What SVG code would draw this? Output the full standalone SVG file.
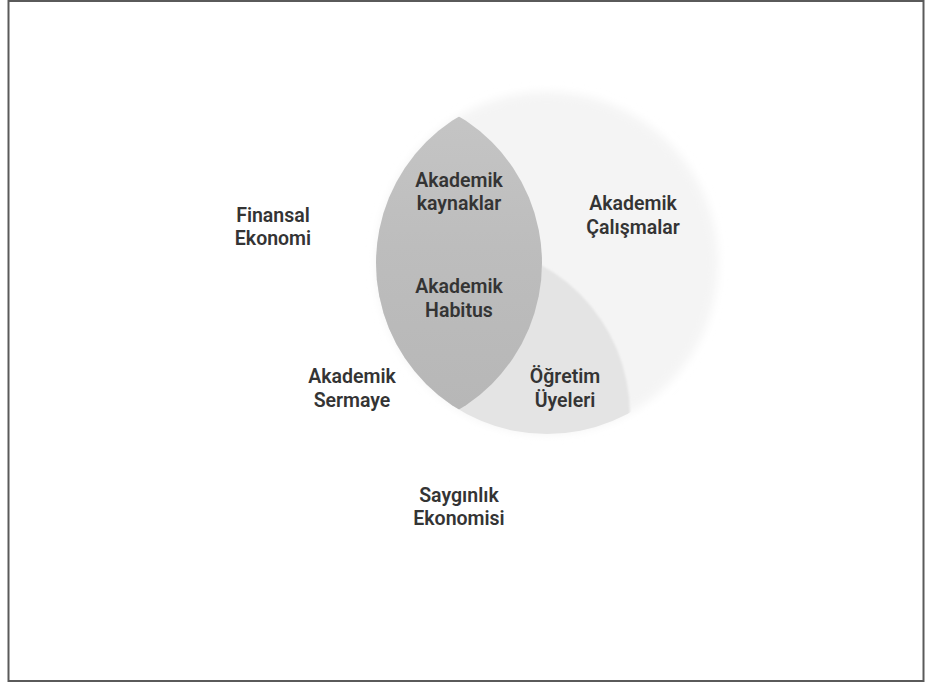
<svg xmlns="http://www.w3.org/2000/svg" width="925" height="684" viewBox="0 0 925 684">
  <defs>
    <style>
      .lbl { font-family: Roboto, "Liberation Sans", Arial, sans-serif; font-size: 19.5px; font-weight: 600; fill: #343434; text-anchor: middle; }
    </style>
    <filter id="soft" x="-10%" y="-10%" width="120%" height="120%">
      <feGaussianBlur stdDeviation="5"/>
    </filter>
    <filter id="soft1" x="-10%" y="-10%" width="120%" height="120%">
      <feGaussianBlur stdDeviation="1.2"/>
    </filter>
    <clipPath id="clipR">
      <circle cx="547" cy="263" r="171"/>
    </clipPath>
    <linearGradient id="lensGrad" x1="0" y1="0" x2="0" y2="1">
      <stop offset="0" stop-color="#c6c6c6"/>
      <stop offset="0.45" stop-color="#bdbdbd"/>
      <stop offset="1" stop-color="#b6b6b6"/>
    </linearGradient>
  </defs>

  <rect x="0" y="0" width="925" height="684" fill="#ffffff"/>
  <rect id="frame" x="8.5" y="1" width="915" height="680" fill="none" stroke="#5a5a5a" stroke-width="2"/>

  <g id="circle-right">
    <circle cx="547" cy="263" r="171" fill="#f4f4f4" filter="url(#soft)"/>
  </g>
  <g id="region-ogretim">
    <g clip-path="url(#clipR)">
      <circle cx="459" cy="415" r="171" fill="#e4e4e4" filter="url(#soft1)"/>
    </g>
  </g>
  <g id="region-lens">
    <g clip-path="url(#clipR)">
      <circle cx="371" cy="263" r="171" fill="url(#lensGrad)"/>
    </g>
  </g>

  <g id="connectors"/>

  <g id="finansal-ekonomi">
    <text class="lbl" x="273" y="222">Finansal</text>
    <text class="lbl" x="273" y="245">Ekonomi</text>
  </g>
  <g id="akademik-kaynaklar">
    <text class="lbl" x="459" y="187">Akademik</text>
    <text class="lbl" x="459" y="210">kaynaklar</text>
  </g>
  <g id="akademik-calismalar">
    <text class="lbl" x="633" y="210">Akademik</text>
    <text class="lbl" x="633" y="234">Çalışmalar</text>
  </g>
  <g id="akademik-habitus">
    <text class="lbl" x="459" y="293">Akademik</text>
    <text class="lbl" x="459" y="317">Habitus</text>
  </g>
  <g id="akademik-sermaye">
    <text class="lbl" x="352" y="383">Akademik</text>
    <text class="lbl" x="352" y="407">Sermaye</text>
  </g>
  <g id="ogretim-uyeleri">
    <text class="lbl" x="565" y="383">Öğretim</text>
    <text class="lbl" x="565" y="407">Üyeleri</text>
  </g>
  <g id="sayginlik-ekonomisi">
    <text class="lbl" x="459" y="502">Saygınlık</text>
    <text class="lbl" x="459" y="525">Ekonomisi</text>
  </g>
</svg>
